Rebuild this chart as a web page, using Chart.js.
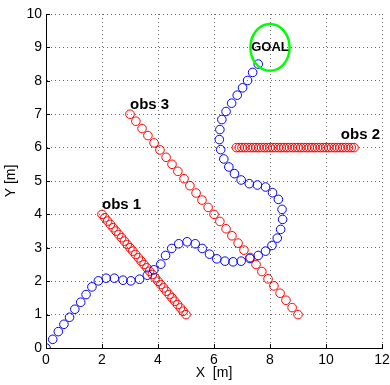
<!DOCTYPE html>
<html>
<head>
<meta charset="utf-8">
<script src="https://cdn.jsdelivr.net/npm/chart.js@4/dist/chart.umd.min.js"></script>
<style>
  html, body { margin: 0; padding: 0; background: #fff; }
  canvas { display: block; }
</style>
</head>
<body>
<canvas id="pathChart" width="390" height="385" style="width:390px;height:385px"></canvas>
<script>
// Robot path (blue circles)
const pathX = [0.00, 0.24, 0.44, 0.64, 0.84, 1.03, 1.24, 1.43, 1.64, 1.87, 2.15, 2.44, 2.75, 3.03, 3.34, 3.62, 3.85, 4.10, 4.27, 4.49,
               4.74, 5.04, 5.33, 5.58, 5.84, 6.10, 6.39, 6.68, 6.97, 7.28, 7.58, 7.84, 8.07, 8.26, 8.38, 8.45, 8.43, 8.30, 8.09, 7.84,
               7.55, 7.26, 6.97, 6.73, 6.53, 6.35, 6.24, 6.19, 6.21, 6.28, 6.43, 6.63, 6.83, 7.02, 7.20, 7.38, 7.58];
const pathY = [0.00, 0.26, 0.49, 0.71, 0.92, 1.16, 1.37, 1.60, 1.83, 2.01, 2.09, 2.09, 2.03, 2.01, 2.06, 2.18, 2.34, 2.51, 2.77, 2.98,
               3.12, 3.18, 3.12, 2.98, 2.81, 2.67, 2.60, 2.58, 2.60, 2.68, 2.77, 2.90, 3.07, 3.29, 3.55, 3.85, 4.15, 4.45, 4.65, 4.82,
               4.88, 4.92, 5.03, 5.22, 5.42, 5.66, 5.94, 6.24, 6.54, 6.84, 7.08, 7.33, 7.57, 7.79, 8.01, 8.25, 8.50];

// Obstacles (red circles)
const obs1X = [2.0, 2.1, 2.2, 2.3, 2.4, 2.5, 2.6, 2.7, 2.8, 2.9, 3.0, 3.1, 3.2, 3.3, 3.4, 3.5, 3.6, 3.7, 3.8, 3.9, 4.0,
               4.1, 4.2, 4.3, 4.4, 4.5, 4.6, 4.7, 4.8, 4.9, 5.0];
const obs1Y = [4.0, 3.9, 3.8, 3.7, 3.6, 3.5, 3.4, 3.3, 3.2, 3.1, 3.0, 2.9, 2.8, 2.7, 2.6, 2.5, 2.4, 2.3, 2.2, 2.1, 2.0,
               1.9, 1.8, 1.7, 1.6, 1.5, 1.4, 1.3, 1.2, 1.1, 1.0];
const obs2X = [6.8, 6.9, 7.0, 7.1, 7.2, 7.3, 7.4, 7.5, 7.6, 7.7, 7.8, 7.9, 8.0, 8.1, 8.2, 8.3, 8.4, 8.5, 8.6, 8.7, 8.8, 8.9,
               9.0, 9.1, 9.2, 9.3, 9.4, 9.5, 9.6, 9.7, 9.8, 9.9, 10.0, 10.1, 10.2, 10.3, 10.4, 10.5, 10.6, 10.7, 10.8, 10.9, 11.0];
const obs2Y = [6, 6, 6, 6, 6, 6, 6, 6, 6, 6, 6, 6, 6, 6, 6, 6, 6, 6, 6, 6, 6, 6,
               6, 6, 6, 6, 6, 6, 6, 6, 6, 6, 6, 6, 6, 6, 6, 6, 6, 6, 6, 6, 6];
const obs3X = [3.00, 3.21, 3.43, 3.64, 3.86, 4.07, 4.29, 4.50, 4.71, 4.93, 5.14, 5.36, 5.57, 5.79, 6.00,
               6.21, 6.43, 6.64, 6.86, 7.07, 7.29, 7.50, 7.71, 7.93, 8.14, 8.36, 8.57, 8.79, 9.00];
const obs3Y = [7.00, 6.79, 6.57, 6.36, 6.14, 5.93, 5.71, 5.50, 5.29, 5.07, 4.86, 4.64, 4.43, 4.21, 4.00,
               3.79, 3.57, 3.36, 3.14, 2.93, 2.71, 2.50, 2.29, 2.07, 1.86, 1.64, 1.43, 1.21, 1.00];

// Goal
const goalCenter = [8.0, 9.0];
const goalRadius = 0.7;

// Tick values
const xTicks = [0, 2, 4, 6, 8, 10, 12];
const yTicks = [0, 1, 2, 3, 4, 5, 6, 7, 8, 9, 10];

// Text annotations (data coords)
const notes = [
    { text: 'obs 1', x: 2.0, y: 4.28, align: 'left', size: 15 },
    { text: 'obs 3', x: 3.0, y: 7.27, align: 'left', size: 15 },
    { text: 'obs 2', x: 10.53, y: 6.38, align: 'left', size: 15 },
    { text: 'GOAL', x: 8.0, y: 9.0, align: 'center', size: 13 }
];

const FONT = '"Liberation Sans", Arial, Helvetica, sans-serif';

const toPoints = (xs, ys) => xs.map((x, i) => ({ x: x, y: ys[i] }));

function circles(data, color) {
    return {
        data: data,
        showLine: false,
        pointStyle: 'circle',
        pointRadius: 4.3,
        pointHoverRadius: 4.3,
        pointBorderWidth: 1,
        borderColor: color,
        backgroundColor: 'rgba(0,0,0,0)'
    };
}

// goal ring, labels, inward ticks and axis titles
const overlay = {
    id: 'overlay',
    afterDatasetsDraw(chart) {
        const { ctx, chartArea: a, scales: { x, y } } = chart;
        ctx.save();

        const cx = x.getPixelForValue(goalCenter[0]);
        const cy = y.getPixelForValue(goalCenter[1]);
        const rx = x.getPixelForValue(goalCenter[0] + goalRadius) - cx;
        const ry = cy - y.getPixelForValue(goalCenter[1] + goalRadius);
        ctx.beginPath();
        ctx.ellipse(cx, cy, rx, ry, 0, 0, Math.PI * 2);
        ctx.strokeStyle = '#00ff00';
        ctx.lineWidth = 2.5;
        ctx.stroke();

        ctx.fillStyle = '#000';
        ctx.textBaseline = 'middle';
        notes.forEach(n => {
            ctx.font = 'bold ' + n.size + 'px ' + FONT;
            ctx.textAlign = n.align;
            ctx.fillText(n.text, x.getPixelForValue(n.x), y.getPixelForValue(n.y));
        });

        ctx.strokeStyle = '#000';
        ctx.lineWidth = 1;
        ctx.beginPath();
        xTicks.forEach(v => {
            const px = Math.round(x.getPixelForValue(v)) + 0.5;
            ctx.moveTo(px, a.bottom);
            ctx.lineTo(px, a.bottom - 4);
        });
        yTicks.forEach(v => {
            const py = Math.round(y.getPixelForValue(v)) + 0.5;
            ctx.moveTo(a.left, py);
            ctx.lineTo(a.left + 4, py);
        });
        ctx.stroke();

        ctx.font = '14px ' + FONT;
        ctx.textAlign = 'center';
        ctx.fillText('X  [m]', (a.left + a.right) / 2, 373);
        ctx.translate(11, (a.top + a.bottom) / 2);
        ctx.rotate(-Math.PI / 2);
        ctx.fillText('Y [m]', 0, 0);

        ctx.restore();
    }
};

function axis(min, max, ticks, fit) {
    return {
        type: 'linear',
        min: min,
        max: max,
        afterBuildTicks: s => { s.ticks = ticks.map(v => ({ value: v })); },
        afterFit: s => {
            fit(s);
            // let layout padding alone decide the plot box
            s.paddingLeft = 0; s.paddingRight = 0;
            s.paddingTop = 0; s.paddingBottom = 0;
        },
        ticks: {
            color: '#000',
            font: { family: FONT, size: 14 },
            padding: 4,
            maxRotation: 0,
            autoSkip: false
        },
        grid: {
            color: 'rgba(0,0,0,0.6)',
            lineWidth: 1,
            drawTicks: false
        },
        border: {
            display: true,
            color: '#000',
            width: 1,
            dash: [1, 3]
        }
    };
}

new Chart(document.getElementById('pathChart'), {
    type: 'scatter',
    data: {
        datasets: [
            circles(toPoints(pathX, pathY), '#0000ff'),
            circles(toPoints(obs1X, obs1Y), '#ff0000'),
            circles(toPoints(obs2X, obs2Y), '#ff0000'),
            circles(toPoints(obs3X, obs3Y), '#ff0000')
        ]
    },
    options: {
        responsive: false,
        animation: false,
        layout: { padding: { top: 14, right: 8, left: 0, bottom: 0 } },
        plugins: {
            legend: { display: false },
            tooltip: { enabled: false }
        },
        scales: {
            x: axis(0, 12, xTicks, s => { s.height = 37; }),
            y: axis(0, 10, yTicks, s => { s.width = 46; })
        }
    },
    plugins: [overlay]
});
</script>
</body>
</html>
